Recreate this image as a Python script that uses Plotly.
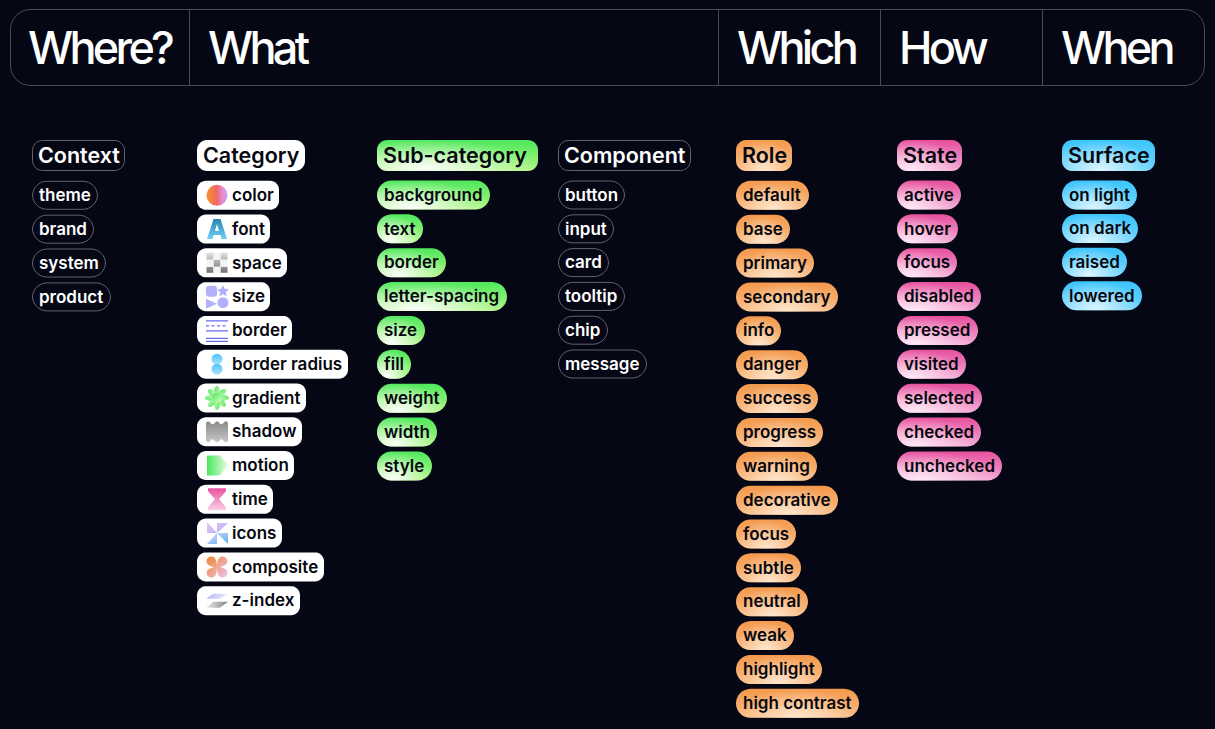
import base64
import numpy as np
import plotly.graph_objects as go

# question bar
questions = ["Where?", "What", "Which", "How", "When"]

# columns: heading first, then the items
context = ["Context", "theme", "brand", "system", "product"]
category = ["Category", "color", "font", "space", "size", "border", "border radius", "gradient",
            "shadow", "motion", "time", "icons", "composite", "z-index"]
subcategory = ["Sub-category", "background", "text", "border", "letter-spacing", "size", "fill",
               "weight", "width", "style"]
component = ["Component", "button", "input", "card", "tooltip", "chip", "message"]
role = ["Role", "default", "base", "primary", "secondary", "info", "danger", "success", "progress",
        "warning", "decorative", "focus", "subtle", "neutral", "weak", "highlight", "high contrast"]
state = ["State", "active", "hover", "focus", "disabled", "pressed", "visited", "selected",
         "checked", "unchecked"]
surface = ["Surface", "on light", "on dark", "raised", "lowered"]

BG = "#050715"
BAR_EDGE = "#4a4b55"
EDGE = "#62626e"
INK = "#06070f"

# pill widths, px
w_context = [93, 66, 62, 74, 79]
w_category = [108, 82, 73, 90, 73, 95, 151, 109, 105, 97, 76, 85, 127, 103]
w_subcategory = [161, 113, 46, 69, 130, 48, 34, 70, 60, 55]
w_component = [133, 67, 56, 51, 67, 50, 89]
w_role = [56, 73, 54, 78, 102, 45, 72, 82, 87, 81, 102, 60, 65, 72, 58, 86, 123]
w_state = [65, 64, 61, 60, 84, 81, 69, 85, 84, 105]
w_surface = [93, 75, 76, 65, 80]

GREEN = dict(base=["#4fe85c", "#aef582"], glow=(0.3, 0.9, "rgba(255,255,255,0.95)"))
ORANGE = dict(base=["#f4994c", "#f9bb84"], glow=(0.5, 1.0, "rgba(255,236,214,0.9)"))
PINK = dict(base=["#e6509d", "#f3a6d3"], glow=(0.22, 0.95, "rgba(255,240,250,0.9)"))
BLUE = dict(base=["#3cc4fc", "#6ed3fd"], glow=(0.42, 0.95, "rgba(225,247,255,0.95)"))

# left edge, first row centre, row step, labels, widths, look
columns = [
    (32, 195.3, 33.87, context, w_context, "outline"),
    (197, 195.3, 33.78, category, w_category, "white"),
    (377, 195, 33.87, subcategory, w_subcategory, GREEN),
    (558, 195, 33.8, component, w_component, "outline"),
    (736, 195.3, 33.87, role, w_role, ORANGE),
    (897, 195, 33.87, state, w_state, PINK),
    (1062, 195, 33.6, surface, w_surface, BLUE),
]


def svg(body):
    raw = '<svg xmlns="http://www.w3.org/2000/svg" viewBox="0 0 24 24">' + body + "</svg>"
    return "data:image/svg+xml;base64," + base64.b64encode(raw.encode()).decode()


def lin(i, a, b, x2=0, y2=1):
    return (f'<linearGradient id="{i}" x1="0" y1="0" x2="{x2}" y2="{y2}">'
            f'<stop offset="0" stop-color="{a}"/><stop offset="1" stop-color="{b}"/></linearGradient>')


icons = {
    "color": svg('<defs><linearGradient id="a"><stop offset=".1" stop-color="#f58a2e"/>'
                 '<stop offset=".5" stop-color="#ef6a6a"/><stop offset=".75" stop-color="#e88ad0"/>'
                 '<stop offset="1" stop-color="#c9a0f0"/></linearGradient></defs>'
                 '<circle cx="12" cy="12" r="10.5" fill="url(#a)"/>'),
    "font": svg('<defs>' + lin("a", "#2a86b0", "#6ed0f5") + '</defs>'
                '<path d="M8.5 2h7L22 22h-5.5l-1-4h-7l-1 4H2zM10 14h4l-2-7z" fill="url(#a)" fill-rule="evenodd"/>'),
    "space": svg('<defs>' + lin("a", "#e0e0e0", "#707070") + '</defs>'
                 '<path d="M1.500 2h7v7h-7zM15.500 2h7v7h-7zM8.500 9h7v7h-7zM1.500 16h7v6h-7zM15.500 16h7v6h-7z" fill="url(#a)"/>'
                 '<path d="M8.500 2h7v7h-7zM1.500 9h7v7h-7zM15.500 9h7v7h-7zM8.500 16h7v6h-7z" fill="#f4f4f4"/>'),
    "size": svg('<g fill="#b4b1fc"><rect x="1" y="1" width="11" height="11" rx="3"/>'
                '<path d="M18 .5l1.800 3.700 4 .5-3 2.800.8 4-3.600-2-3.600 2 .8-4-3-2.800 4-.5z"/>'
                '<path d="M1 14l11 5-11 5z"/><circle cx="18" cy="18" r="5.500"/></g>'),
    "border": svg('<g stroke="#6b6bf2" fill="none"><path d="M1 2.500h22M1 12.500h22M1 20h22M1 23h22" stroke-width="1.300"/>'
                  '<path d="M1 7.500h22" stroke-width="1.300" stroke-dasharray="3 2.500"/></g>'),
    "border radius": svg('<defs>' + lin("a", "#4cc4fa", "#a8e4fd") + '</defs><g fill="url(#a)">'
                         '<circle cx="12" cy="7" r="5.500"/><circle cx="12" cy="17" r="5.500"/></g>'),
    "gradient": svg('<defs>' + lin("a", "#4fe85c", "#d8fbc4", 1, 1) + '</defs><g fill="url(#a)">'
                    + "".join(f'<ellipse cx="12" cy="5.500" rx="2.800" ry="5.500" transform="rotate({a} 12 12)"/>'
                              for a in range(0, 360, 45)) + '<circle cx="12" cy="12" r="5"/></g>'),
    "shadow": svg('<defs>' + lin("a", "#8a8a8a", "#c8c8c8") + '</defs>'
                  '<path d="M1 3q2.200 -3 4.400 0t4.400 0 4.400 0 4.400 0 4.400 0v18q-2.200 3 -4.400 0t-4.400 0-4.400 0-4.400 0-4.400 0z" fill="url(#a)"/>'),
    "motion": svg('<defs>' + lin("a", "#48e860", "#eafbe0", 1, 0) + '</defs>'
                  '<path d="M2 2h13l8 9-8 11H2z" fill="url(#a)"/>'),
    "time": svg('<defs>' + lin("a", "#e9549f", "#f9d0e6") + '</defs>'
                '<path d="M3 1h18v3l-7 8 7 8v3H3v-3l7-8-7-8z" fill="url(#a)"/>'),
    "icons": svg('<defs>' + lin("a", "#f0c4f0", "#a9b0f5", 1, 1) + lin("b", "#e4d0fa", "#52b8ee", 1, 1) + '</defs>'
                 '<path d="M2 1l10 11H2zM23 2L12 12V2z" fill="url(#a)"/><path d="M23 23L12 12h11zM2 23l10-11v11z" fill="url(#b)"/>'),
    "composite": svg('<defs>' + lin("a", "#f4852a", "#ecc4f4", 1, 1) + '</defs><g fill="url(#a)">'
                     '<path d="M12 12C6 12 1.500 10 1.500 6.500S4 1.500 7 1.500 12 5 12 12'
                     'C12 5 14 1.500 17 1.500s5.500 2 5.500 5-4.500 5.500-10.500 5.500'
                     'C18 12 22.500 14 22.500 17.500s-2.500 5-5.500 5-5-3.500-5-10.500'
                     'C12 19 10 22.500 7 22.500s-5.500-2-5.500-5S6 12 12 12z"/></g>'),
    "z-index": svg('<defs>' + lin("a", "#b8b4fc", "#eeeefe", 1, 0) + lin("b", "#f0f0f0", "#808080", 1, 0) + '</defs>'
                   '<path d="M8 5h15l-8 5H1z" fill="url(#a)"/><path d="M8 13h15l-8 6H1z" fill="url(#b)"/>'),
}


def pill_outline(x, y, w, h, r, reach=None):
    # rounded rectangle as a closed polygon; reach adds a zero-area spur to widen the bounding box
    xs, ys = [], []
    corners = [(x + w - r, y + r, -90), (x + w - r, y + h - r, 0), (x + r, y + h - r, 90), (x + r, y + r, 180)]
    for cx, cy, a0 in corners:
        t = np.radians(np.linspace(a0, a0 + 90, 9))
        xs += list(cx + r * np.cos(t))
        ys += list(cy + r * np.sin(t))
    if reach is not None:
        xs += [xs[0], reach[0], xs[0]]
        ys += [ys[0], reach[1], ys[0]]
    xs.append(xs[0])
    ys.append(ys[0])
    return xs, ys


def poly(xs, ys, **kw):
    return go.Scatter(x=xs, y=ys, mode="lines", fill="toself", hoverinfo="skip", showlegend=False,
                      line=dict(simplify=False, **kw.pop("line", dict(width=0))), **kw)


fig = go.Figure()
notes = []

# question bar frame and dividers
bar_x, bar_y = pill_outline(10.5, 9.5, 1194, 76, 20)
fig.add_trace(poly(bar_x, bar_y, fillcolor=BG, line=dict(color=BAR_EDGE, width=1)))
for d in [189.5, 718.5, 880.5, 1042.5]:
    fig.add_shape(type="line", x0=d, x1=d, y0=9.5, y1=85.5, line=dict(color=BAR_EDGE, width=1))
for q, qx in zip(questions, [28, 208, 737, 899, 1061]):
    notes.append(dict(x=qx, y=47, text=f'<span style="letter-spacing:-3.7px">{q}</span>',
                      font=dict(size=45, color="white", weight=500)))

# one pill per entry, heading first
images = []
for left, first, step, labels, widths, look in columns:
    for i, (label, w) in enumerate(zip(labels, widths)):
        head = i == 0
        top = 140 if head else first + (i - 1) * step - 14.5
        h = 31 if head else 29
        if head or look == "white":
            r = 10 if head else 9
        else:
            r = 14.5
        if look == "outline":
            xs, ys = pill_outline(left + 0.5, top + 0.5, w - 1, h - 1, r)
            fig.add_trace(poly(xs, ys, fillcolor=BG, line=dict(color=EDGE, width=1)))
        elif look == "white":
            xs, ys = pill_outline(left, top, w, h, r)
            fig.add_trace(poly(xs, ys, fillcolor="white"))
        else:
            xs, ys = pill_outline(left, top, w, h, r)
            fig.add_trace(poly(xs, ys, fillgradient=dict(
                type="vertical", start=top, stop=top + h,
                colorscale=[[0, look["base"][0]], [1, look["base"][1]]])))
            gx, gy, glow = look["glow"]
            # push the bounding box so the radial centre lands at (gx, gy) inside the pill
            reach = (left - max(0, (1 - 2 * gx) * w), top + h + max(0, (2 * gy - 1) * h))
            xs, ys = pill_outline(left, top, w, h, r, reach)
            fade = glow.rsplit(",", 1)[0] + ",0)"
            fig.add_trace(poly(xs, ys, fillgradient=dict(
                type="radial", colorscale=[[0, glow], [1, fade]])))

        cy = top + h / 2
        has_icon = look == "white" and not head
        tx = left + (35 if has_icon else (6 if head else 7))
        notes.append(dict(x=tx, y=cy - (1 if head else 0.3), text=label, font=dict(
            size=21.5 if head else 17, weight=600,
            color="white" if look == "outline" else INK)))
        if has_icon:
            images.append(dict(source=icons[label], x=left + 20, y=cy, sizex=24, sizey=24,
                               xref="x", yref="y", xanchor="center", yanchor="middle", layer="above"))

for n in notes:
    n.update(showarrow=False, xanchor="left", yanchor="middle", borderpad=0, borderwidth=0)

fig.update_layout(
    width=1215, height=729, margin=dict(l=0, r=0, t=0, b=0),
    paper_bgcolor=BG, plot_bgcolor=BG,
    font=dict(family="Inter"),
    xaxis=dict(range=[0, 1215], visible=False, fixedrange=True),
    yaxis=dict(range=[729, 0], visible=False, fixedrange=True),
    annotations=notes, images=images, showlegend=False,
)
# the page's default body margin would shift the whole picture by 8px
fig.write_html("out.html", config=dict(displayModeBar=False),
               post_script=f"document.body.style.margin='0';document.body.style.background='{BG}';")
